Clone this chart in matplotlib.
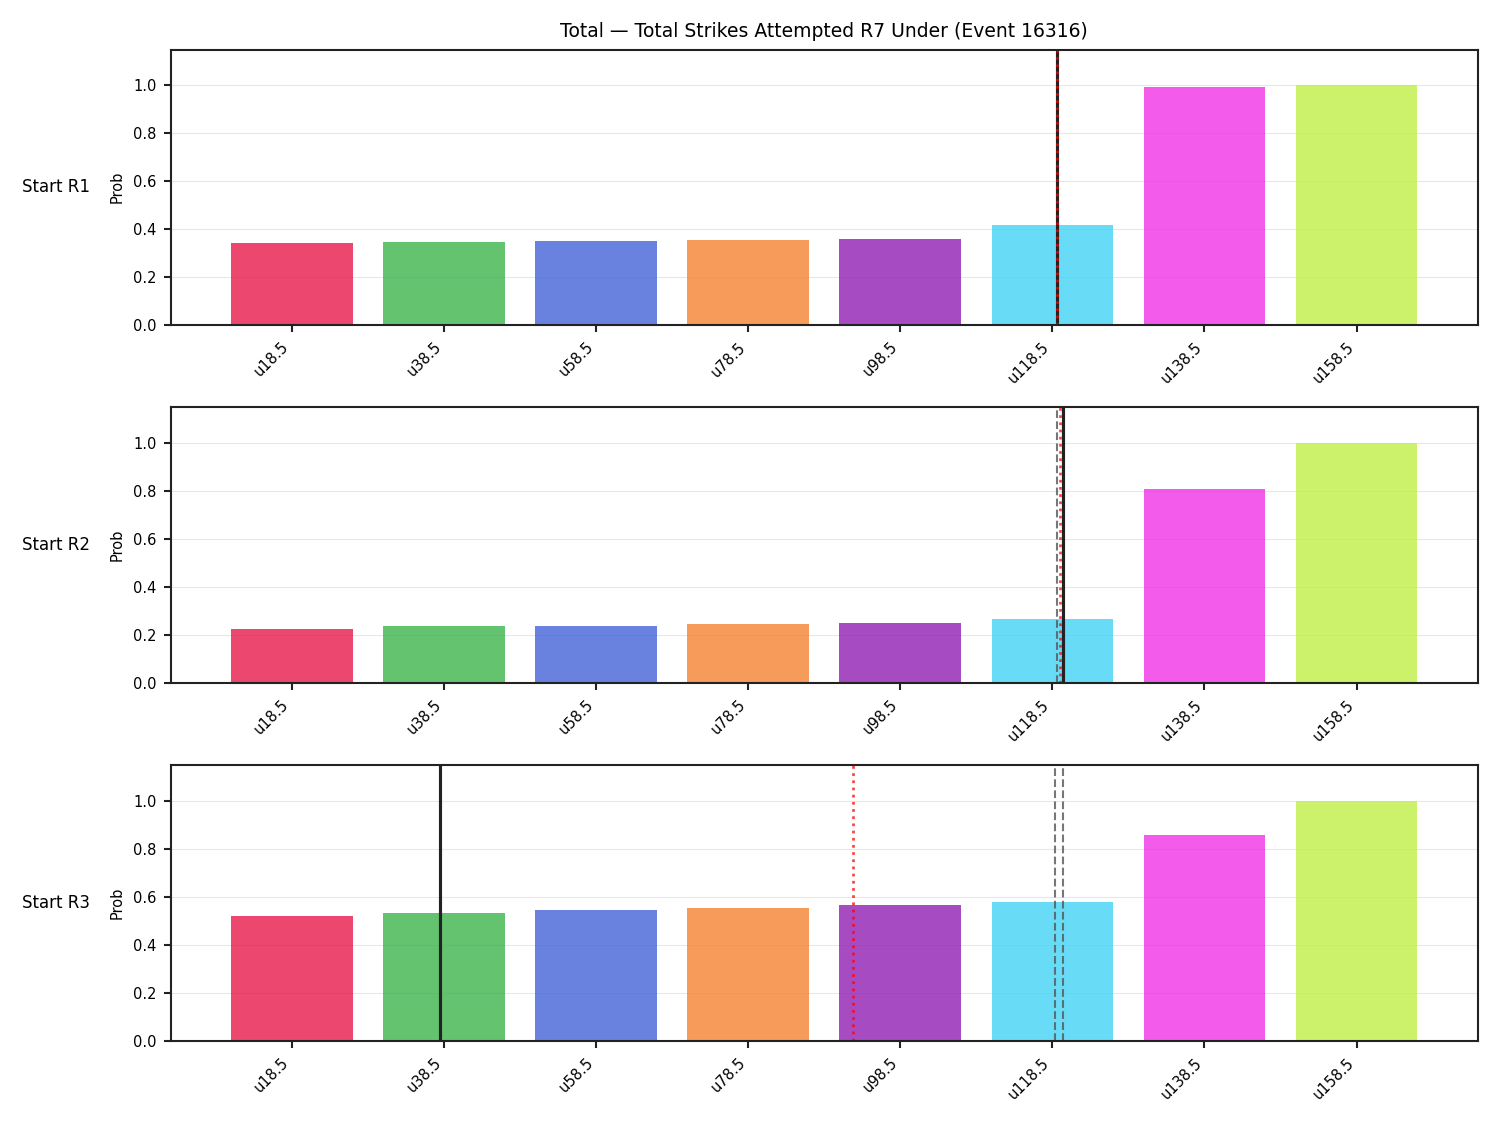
import matplotlib
matplotlib.use("Agg")
import matplotlib.pyplot as plt
import numpy as np

TITLE = "Total \u2014 Total Strikes Attempted R7 Under (Event 16316)"
CATEGORIES = ["u18.5", "u38.5", "u58.5", "u78.5", "u98.5", "u118.5", "u138.5", "u158.5"]
COLORS = ["#e6194b", "#3cb44b", "#4363d8", "#f58231", "#911eb4", "#42d4f4", "#f032e6", "#bfef45"]
ROW_LABELS = ["Start R1", "Start R2", "Start R3"]

PROB_R1 = [0.340, 0.345, 0.349, 0.356, 0.357, 0.416, 0.993, 1.000]
PROB_R2 = [0.223, 0.235, 0.235, 0.244, 0.248, 0.265, 0.811, 1.000]
PROB_R3 = [0.521, 0.534, 0.546, 0.555, 0.567, 0.580, 0.857, 1.000]
PROBS = [PROB_R1, PROB_R2, PROB_R3]

# reference lines, in bar-index units
SOLID_X = [5.03, 5.07, 0.975]
DOTTED_X = [5.03, 5.05, 3.69]
DASHED_X = [[], [5.03, 5.07], [5.02, 5.07]]

fig, axes = plt.subplots(3, 1, figsize=(10, 7.5), dpi=150)
fig.subplots_adjust(left=0.114, right=0.985, top=0.956, bottom=0.075, hspace=0.30)

x = np.arange(len(CATEGORIES))
for i, ax in enumerate(axes):
    ax.bar(x, PROBS[i], width=0.8, color=COLORS, alpha=0.8)
    for dx in DASHED_X[i]:
        ax.axvline(dx, color="#555555", linestyle="--", linewidth=1.0, alpha=0.8)
    ax.axvline(SOLID_X[i], color="#222222", linewidth=1.5)
    ax.axvline(DOTTED_X[i], color="red", linestyle=":", linewidth=1.3, alpha=0.75)
    ax.set_ylim(0, 1.15)
    ax.set_xlim(-0.795, 7.795)
    ax.set_xticks(x)
    ax.set_xticklabels(CATEGORIES, rotation=45, ha="right")
    ax.tick_params(labelsize=7, width=1.0, color="#222222")
    for sp in ax.spines.values():
        sp.set_color("#222222")
        sp.set_linewidth(1.0)
    ax.set_ylabel("Prob", fontsize=7)
    ax.grid(axis="y", alpha=0.3, linewidth=0.5)
    ax.set_axisbelow(True)
    ax.text(-0.088, 0.5, ROW_LABELS[i], transform=ax.transAxes, ha="center",
            va="center", fontsize=8)

axes[0].set_title(TITLE, fontsize=9, pad=6)

plt.savefig("out.png", dpi=150)
